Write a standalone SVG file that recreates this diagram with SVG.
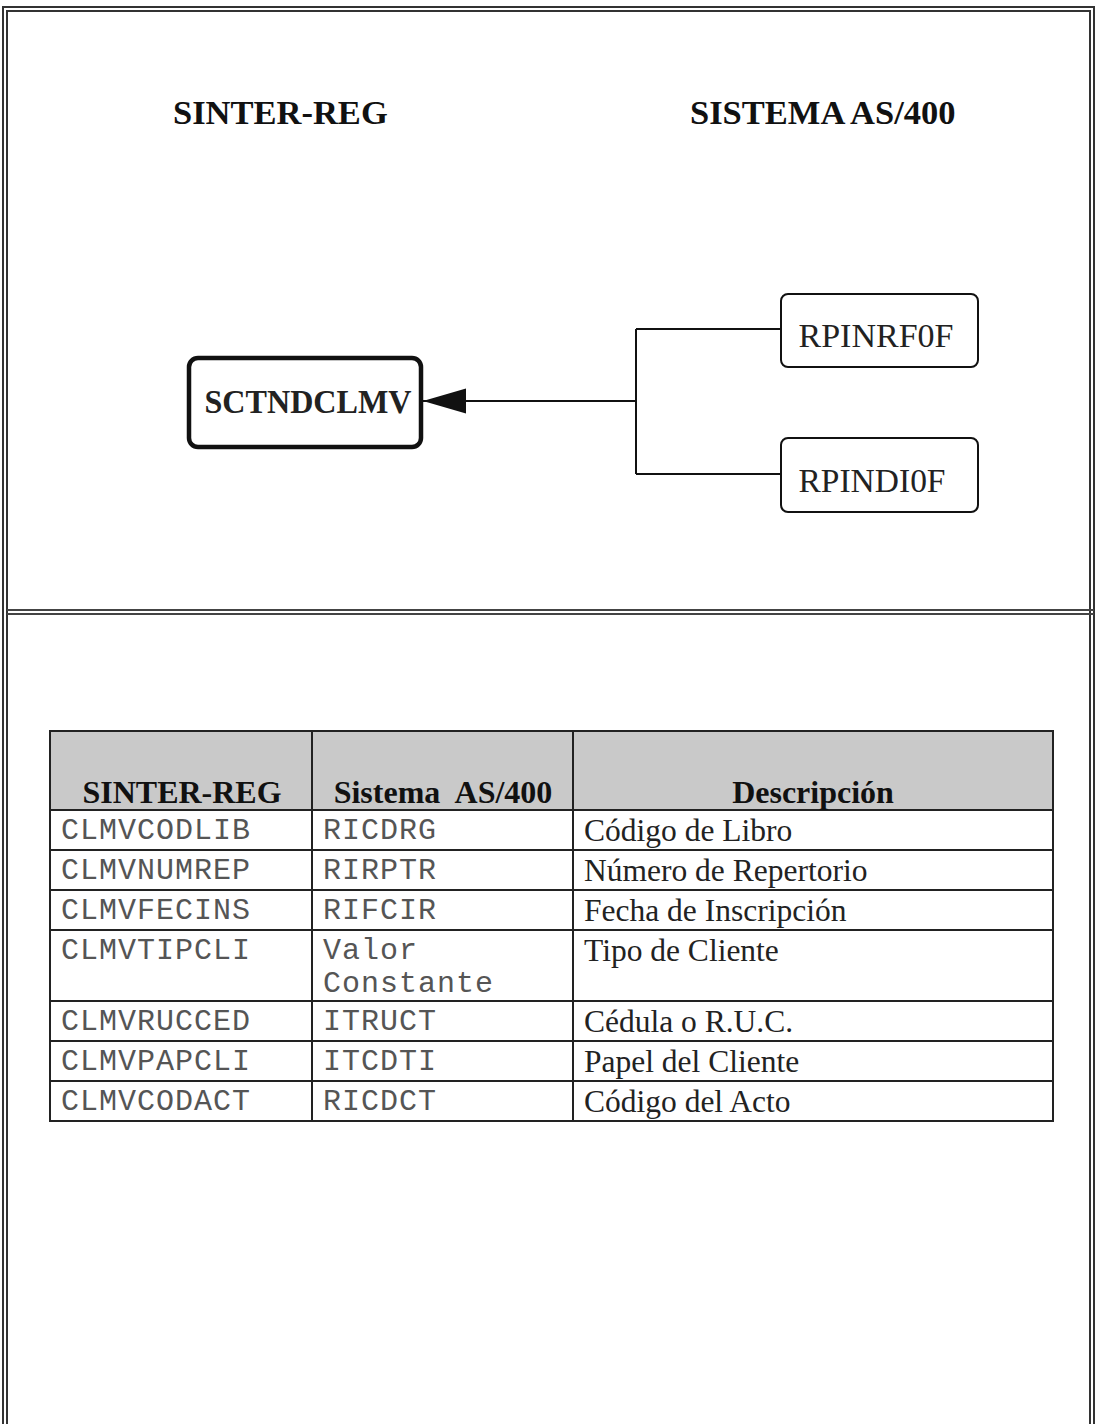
<svg xmlns="http://www.w3.org/2000/svg" width="1098" height="1424" viewBox="0 0 1098 1424">
<style>
.frame{fill:none;stroke:#333;stroke-width:2}
.title{font-family:"Liberation Serif",serif;font-weight:bold;font-size:34.5px;fill:#111}
.node{fill:#fff;stroke:#111}
.nt{font-family:"Liberation Serif",serif;font-size:33px;fill:#222;text-anchor:middle}
.conn{fill:none;stroke:#111;stroke-width:2}
.grid{fill:none;stroke:#222;stroke-width:2}
.hd{font-family:"Liberation Serif",serif;font-weight:bold;font-size:32px;fill:#111;text-anchor:middle;white-space:pre}
.mono{font-family:"Liberation Mono",monospace;font-size:30px;fill:#555;letter-spacing:1px}
.desc{font-family:"Liberation Serif",serif;font-size:31.5px;fill:#222}
</style>
<defs>
<marker id="arr" markerWidth="44" markerHeight="26" refX="43" refY="13" orient="auto" markerUnits="userSpaceOnUse">
<path d="M0,0.5 L43,13 L0,25.5 Z" fill="#111"/>
</marker>
</defs>
<rect width="1098" height="1424" fill="#fff"/>
<g id="frame">
<rect class="frame" x="3" y="7" width="1091" height="1430"/>
<rect class="frame" x="7" y="11" width="1083" height="1420" stroke-width="1.5"/>
<line x1="7" y1="610" x2="1094" y2="610" stroke="#444" stroke-width="2"/>
<line x1="7" y1="614" x2="1094" y2="614" stroke="#444" stroke-width="2"/>
</g>
<text class="title" x="173" y="124">SINTER-REG</text>
<text class="title" x="690" y="124">SISTEMA AS/400</text>
<g id="connectors">
<line class="conn" x1="636" y1="329" x2="636" y2="474"/>
<line class="conn" x1="636" y1="329" x2="781" y2="329"/>
<line class="conn" x1="636" y1="474" x2="781" y2="474"/>
<line class="conn" x1="636" y1="401" x2="423" y2="401" marker-end="url(#arr)"/>
</g>
<g id="node-sctndclmv">
<rect class="node" x="189" y="358" width="232" height="89" rx="9" style="stroke-width:4.5"/>
<text class="nt" x="308" y="413" font-weight="bold" textLength="207" lengthAdjust="spacingAndGlyphs">SCTNDCLMV</text>
</g>
<g id="node-rpinrf0f">
<rect class="node" x="781" y="294" width="197" height="73" rx="7" style="stroke-width:2"/>
<text class="nt" x="876" y="347" textLength="155" lengthAdjust="spacingAndGlyphs">RPINRF0F</text>
</g>
<g id="node-rpindi0f">
<rect class="node" x="781" y="438" width="197" height="74" rx="7" style="stroke-width:2"/>
<text class="nt" x="872" y="492" textLength="147" lengthAdjust="spacingAndGlyphs">RPINDI0F</text>
</g>
<g id="table">
<rect x="50" y="731" width="1003" height="79" fill="#c9c9c9"/>
<rect class="grid" x="50" y="731" width="1003" height="390"/>
<line class="grid" x1="312" y1="731" x2="312" y2="1121"/>
<line class="grid" x1="573" y1="731" x2="573" y2="1121"/>
<line class="grid" x1="50" y1="810" x2="1053" y2="810"/>
<line class="grid" x1="50" y1="850" x2="1053" y2="850"/>
<line class="grid" x1="50" y1="890" x2="1053" y2="890"/>
<line class="grid" x1="50" y1="930" x2="1053" y2="930"/>
<line class="grid" x1="50" y1="1001" x2="1053" y2="1001"/>
<line class="grid" x1="50" y1="1041" x2="1053" y2="1041"/>
<line class="grid" x1="50" y1="1081" x2="1053" y2="1081"/>
<text class="hd" x="182" y="803">SINTER-REG</text>
<text class="hd" x="443" y="803">Sistema  AS/400</text>
<text class="hd" x="813" y="803">Descripción</text>
<text class="mono" x="61" y="839">CLMVCODLIB</text>
<text class="mono" x="323" y="839">RICDRG</text>
<text class="desc" x="584" y="841">Código de Libro</text>
<text class="mono" x="61" y="879">CLMVNUMREP</text>
<text class="mono" x="323" y="879">RIRPTR</text>
<text class="desc" x="584" y="881">Número de Repertorio</text>
<text class="mono" x="61" y="919">CLMVFECINS</text>
<text class="mono" x="323" y="919">RIFCIR</text>
<text class="desc" x="584" y="921">Fecha de Inscripción</text>
<text class="mono" x="61" y="959">CLMVTIPCLI</text>
<text class="mono" x="323" y="959">Valor</text>
<text class="mono" x="323" y="992">Constante</text>
<text class="desc" x="584" y="961">Tipo de Cliente</text>
<text class="mono" x="61" y="1030">CLMVRUCCED</text>
<text class="mono" x="323" y="1030">ITRUCT</text>
<text class="desc" x="584" y="1032">Cédula o R.U.C.</text>
<text class="mono" x="61" y="1070">CLMVPAPCLI</text>
<text class="mono" x="323" y="1070">ITCDTI</text>
<text class="desc" x="584" y="1072">Papel del Cliente</text>
<text class="mono" x="61" y="1110">CLMVCODACT</text>
<text class="mono" x="323" y="1110">RICDCT</text>
<text class="desc" x="584" y="1112">Código del Acto</text>
</g>
</svg>
